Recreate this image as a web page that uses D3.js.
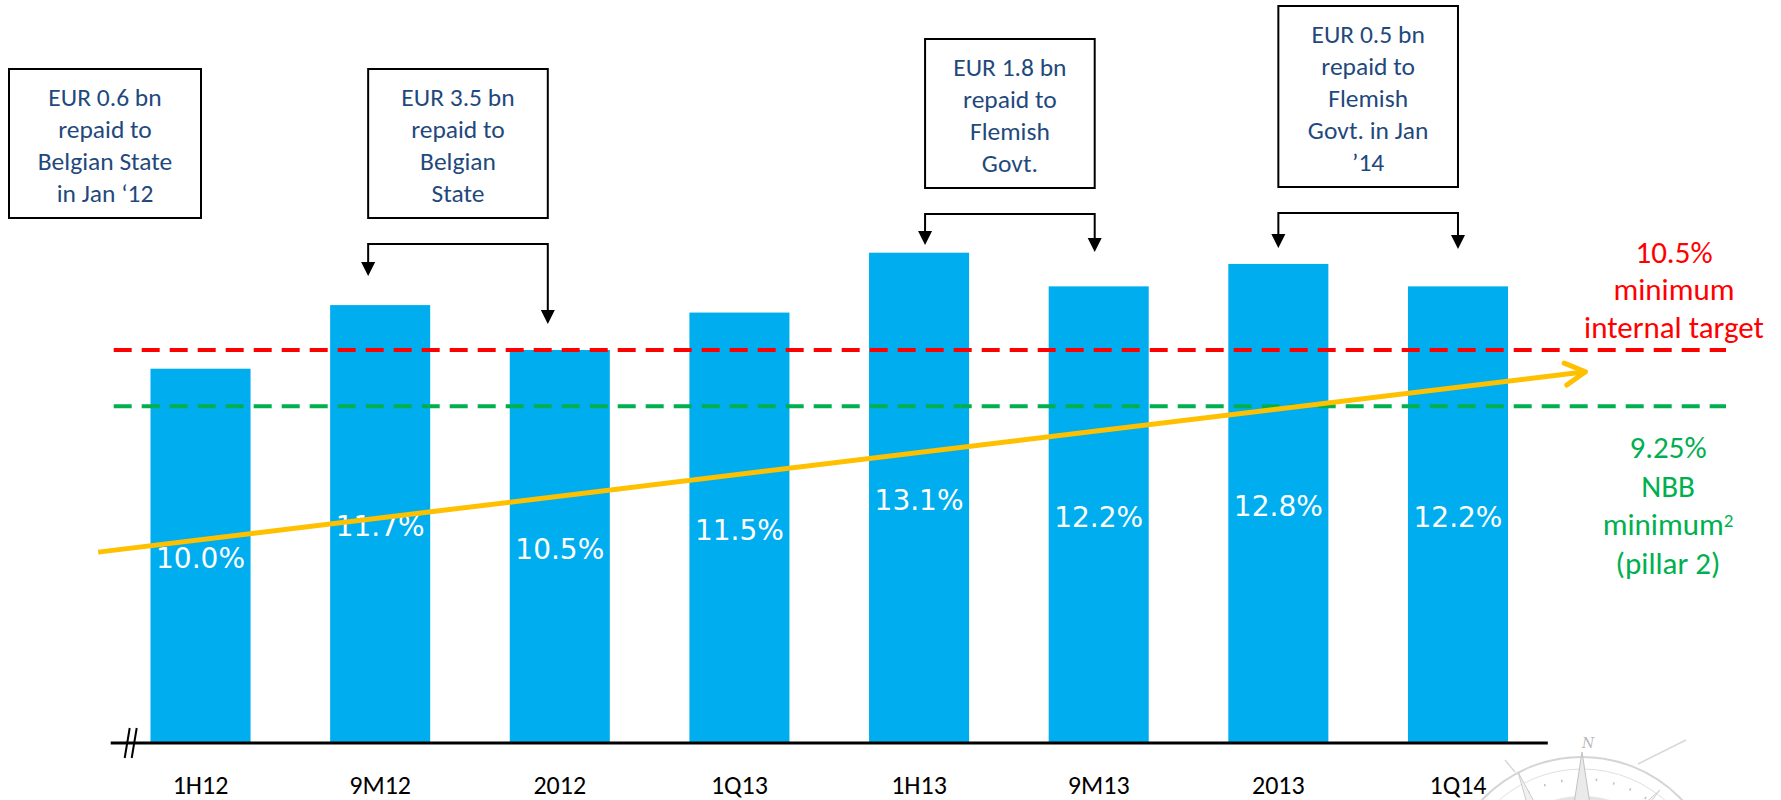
<!DOCTYPE html>
<html>
<head>
<meta charset="utf-8">
<script src="https://cdn.jsdelivr.net/npm/d3@7"></script>
<style>
  html, body { margin: 0; padding: 0; background: #fff; }
  svg { display: block; }
</style>
</head>
<body>
<div id="chart"></div>
<script>
// capital ratio per period
const categories = ['1H12', '9M12', '2012', '1Q13', '1H13', '9M13', '2013', '1Q14'];
const ratios = [10.0, 11.7, 10.5, 11.5, 13.1, 12.2, 12.8, 12.2];

// reference lines: red = internal target, green = NBB minimum (line sits at ~9.0 on the slide)
const levels = [10.5, 9.0];
const levelColors = ['#ff0000', '#00b050'];
const levelTexts = [
    ['10.5%', 'minimum', 'internal target'],
    ['9.25%', 'NBB', 'minimum', '(pillar 2)']
];

// yellow trend arrow, in period index / ratio units
const trendIndex = [-0.57, 7.71];
const trendValues = [5.1, 9.92];

// repayment call-outs
const boxTexts = [
    ['EUR 0.6 bn', 'repaid to', 'Belgian State', 'in Jan \u201812'],
    ['EUR 3.5 bn', 'repaid to', 'Belgian', 'State'],
    ['EUR 1.8 bn', 'repaid to', 'Flemish', 'Govt.'],
    ['EUR 0.5 bn', 'repaid to', 'Flemish', 'Govt. in Jan', '\u201914']
];
const boxFrom = [null, '9M12', '1H13', '2013'];
const boxTo = [null, '2012', '9M13', '1Q14'];

const W = 1781, H = 800;
const svg = d3.select('#chart').append('svg')
    .attr('width', W)
    .attr('height', H);

const x = d3.scaleBand()
    .domain(categories)
    .range([110.7, 1547.8])
    .paddingInner(0.443)
    .paddingOuter(0.2215);
const y = d3.scaleLinear().domain([0, 14]).range([743, 219]);
const cx = c => x(c) + x.bandwidth() / 2;
const xi = d3.scaleLinear().domain([0, 7]).range([cx(categories[0]), cx(categories[7])]);

const calibri = 'Carlito, Calibri, Lato, sans-serif';

// compass watermark (faint, bottom right)
const compass = svg.append('g').attr('opacity', 0.7);
const cc = [1582, 895];
compass.append('circle').attr('cx', cc[0]).attr('cy', cc[1]).attr('r', 138)
    .attr('fill', 'none').attr('stroke', '#c4c4c4').attr('stroke-width', 2);
compass.append('circle').attr('cx', cc[0]).attr('cy', cc[1]).attr('r', 126)
    .attr('fill', 'none').attr('stroke', '#d4d4d4').attr('stroke-width', 1);
compass.append('circle').attr('cx', cc[0]).attr('cy', cc[1]).attr('r', 116)
    .attr('fill', 'none').attr('stroke', '#a8a8a8').attr('stroke-width', 2.5)
    .attr('stroke-dasharray', '1.5,16');
compass.append('circle').attr('cx', cc[0]).attr('cy', cc[1]).attr('r', 95)
    .attr('fill', 'none').attr('stroke', '#dadada').attr('stroke-width', 8);
compass.append('path').attr('d', 'M1582,752 L1594,830 L1582,895 L1570,830 Z')
    .attr('fill', '#e2e2e2').attr('stroke', '#a8a8a8');
compass.append('path').attr('d', 'M1518,772 L1552,835 L1582,895 L1538,842 Z')
    .attr('fill', '#ececec').attr('stroke', '#b5b5b5');
compass.append('path').attr('d', 'M1660,790 L1620,840 L1582,895 L1612,832 Z')
    .attr('fill', '#eeeeee').attr('stroke', '#bdbdbd');
compass.append('line').attr('x1', 1638).attr('y1', 764).attr('x2', 1686).attr('y2', 740)
    .attr('stroke', '#c8c8c8').attr('stroke-width', 1.5);
compass.append('line').attr('x1', 1505).attr('y1', 760).attr('x2', 1515).attr('y2', 772)
    .attr('stroke', '#c8c8c8').attr('stroke-width', 1.5);
compass.append('text').attr('x', 1588).attr('y', 748)
    .attr('text-anchor', 'middle')
    .attr('font-family', 'DejaVu Serif').attr('font-style', 'italic').attr('font-size', 14)
    .attr('fill', '#9a9a9a').text('N');

// bars
svg.selectAll('rect.bar')
    .data(ratios)
    .enter().append('rect')
    .attr('class', 'bar')
    .attr('x', (d, i) => x(categories[i]))
    .attr('y', d => y(d))
    .attr('width', x.bandwidth())
    .attr('height', d => y(0) - y(d))
    .attr('fill', '#00aeef');

// dashed reference lines
svg.selectAll('line.level')
    .data(levels)
    .enter().append('line')
    .attr('class', 'level')
    .attr('x1', x.range()[0] + 3)
    .attr('x2', 1726)
    .attr('y1', d => y(d))
    .attr('y2', d => y(d))
    .attr('stroke', (d, i) => levelColors[i])
    .attr('stroke-width', 4)
    .attr('stroke-dasharray', '18,10');

// value labels in the middle of each bar
svg.selectAll('text.val')
    .data(ratios)
    .enter().append('text')
    .attr('class', 'val')
    .attr('x', (d, i) => cx(categories[i]))
    .attr('y', d => (y(d) + y(0)) / 2 + 2)
    .attr('dy', '0.36em')
    .attr('text-anchor', 'middle')
    .attr('font-family', 'DejaVu Sans, Verdana, sans-serif')
    .attr('font-size', 28)
    .attr('fill', '#fff')
    .text(d => d.toFixed(1) + '%');

// base line with break marks
svg.append('line')
    .attr('x1', x.range()[0]).attr('x2', x.range()[1])
    .attr('y1', y(0)).attr('y2', y(0))
    .attr('stroke', '#000').attr('stroke-width', 3);
[0, 7].forEach(off => {
    svg.append('line')
        .attr('x1', x.range()[0] + 14 + off).attr('y1', y(0) + 15)
        .attr('x2', x.range()[0] + 19 + off).attr('y2', y(0) - 15)
        .attr('stroke', '#000').attr('stroke-width', 2);
});

// category labels
svg.selectAll('text.cat')
    .data(categories)
    .enter().append('text')
    .attr('class', 'cat')
    .attr('x', d => cx(d))
    .attr('y', 785)
    .attr('dy', '0.35em')
    .attr('text-anchor', 'middle')
    .attr('font-family', calibri)
    .attr('font-size', 26)
    .attr('fill', '#000')
    .text(d => d);

// trend arrow
const p0 = [xi(trendIndex[0]), y(trendValues[0])];
const p1 = [xi(trendIndex[1]), y(trendValues[1])];
const ang = Math.atan2(p0[1] - p1[1], p0[0] - p1[0]);
const arm = 23, spread = 0.5;
const armA = [p1[0] + arm * Math.cos(ang + spread), p1[1] + arm * Math.sin(ang + spread)];
const armB = [p1[0] + arm * Math.cos(ang - spread), p1[1] + arm * Math.sin(ang - spread)];
svg.append('path')
    .attr('d', d3.line()([p0, p1]))
    .attr('stroke', '#ffc000').attr('stroke-width', 5).attr('fill', 'none');
svg.append('path')
    .attr('d', d3.line()([armA, p1, armB]))
    .attr('stroke', '#ffc000').attr('stroke-width', 5).attr('fill', 'none')
    .attr('stroke-linecap', 'round').attr('stroke-linejoin', 'round');

// reference line labels on the right
const labelTop = [252, 447];
const labelGap = [37.5, 38.7];
const labelX = [1674, 1668];
levelTexts.forEach((lines, k) => {
    const t = svg.append('text')
        .attr('text-anchor', 'middle')
        .attr('font-family', calibri)
        .attr('font-size', 31)
        .attr('fill', levelColors[k]);
    lines.forEach((s, j) => {
        t.append('tspan')
            .attr('x', labelX[k])
            .attr('y', labelTop[k] + j * labelGap[k])
            .attr('dy', '0.35em')
            .text(s);
        if (k === 1 && s === 'minimum') {
            t.append('tspan').attr('font-size', 19).attr('dy', '-0.45em').text('2');
        }
    });
});

// call-out boxes and brackets
const boxBottom = [218, 218, 188, 187];
const boxShift = [0, -12, 6, 0];
const dropL = [0, 32, 31, 35];
const dropR = [0, 80, 38, 36];
const lineH = 32;
boxTexts.forEach((lines, k) => {
    const h = lines.length * lineH + 21;
    let x0, x1;
    if (boxFrom[k]) {
        x0 = cx(boxFrom[k]) + boxShift[k];
        x1 = cx(boxTo[k]) + boxShift[k] - (k === 2 ? 10 : 0);
    } else {
        x0 = 9;
        x1 = 201;
    }
    const top = boxBottom[k] - h;
    svg.append('rect')
        .attr('x', x0).attr('y', top)
        .attr('width', x1 - x0).attr('height', h)
        .attr('fill', '#fff').attr('stroke', '#000').attr('stroke-width', 2);
    svg.append('text')
        .attr('text-anchor', 'middle')
        .attr('font-family', calibri)
        .attr('font-size', 25.5)
        .attr('fill', '#1f497d')
        .selectAll('tspan')
        .data(lines)
        .enter().append('tspan')
        .attr('x', (x0 + x1) / 2)
        .attr('y', (d, j) => top + 28 + j * lineH)
        .attr('dy', '0.35em')
        .text(d => d);

    if (!boxFrom[k]) return;
    const by = boxBottom[k] + 26;
    const tipL = by + dropL[k], tipR = by + dropR[k];
    svg.append('path')
        .attr('d', `M${x0},${tipL - 12} L${x0},${by} L${x1},${by} L${x1},${tipR - 12}`)
        .attr('fill', 'none').attr('stroke', '#000').attr('stroke-width', 2);
    [[x0, tipL], [x1, tipR]].forEach(([ax, ay]) => {
        svg.append('path')
            .attr('d', `M${ax - 7},${ay - 14} L${ax + 7},${ay - 14} L${ax},${ay} Z`)
            .attr('fill', '#000');
    });
});
</script>
</body>
</html>
